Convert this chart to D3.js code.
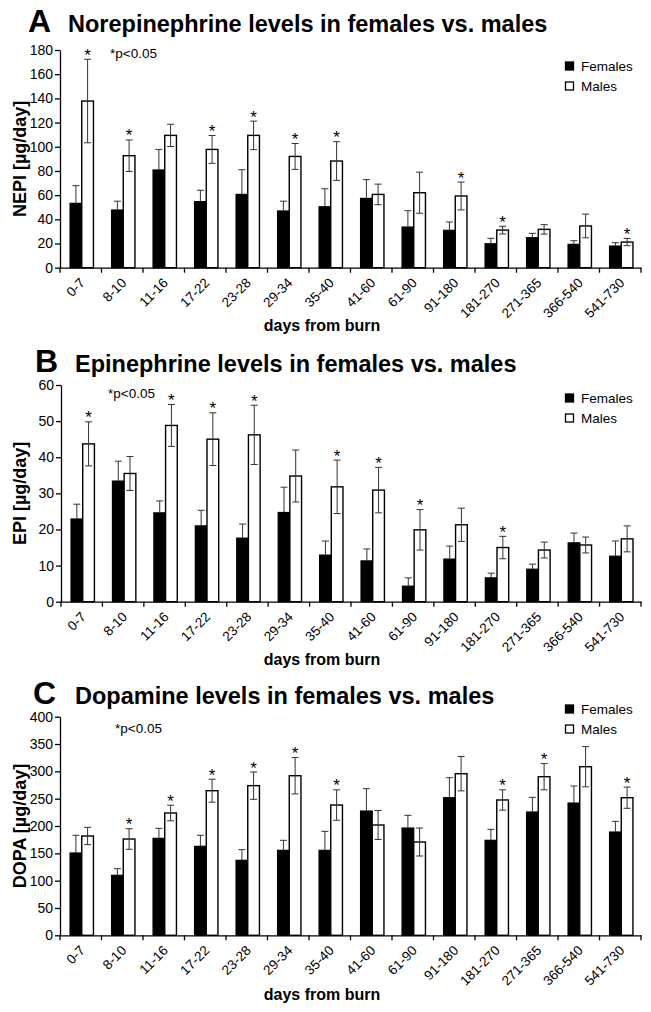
<!DOCTYPE html>
<html><head><meta charset="utf-8">
<script src="https://cdn.jsdelivr.net/npm/d3@7"></script>
<style>
body{margin:0;background:#fff;}
svg{display:block;font-family:"Liberation Sans",Arial,Helvetica,sans-serif;}
</style></head>
<body>
<svg id="chart" width="651" height="1012"></svg>
<script>
const categories = ["0-7","8-10","11-16","17-22","23-28","29-34","35-40","41-60","61-90","91-180","181-270","271-365","366-540","541-730"];
const seriesNames = ["Females","Males"];

const nepiF    = [53.2,47.7,80.8,54.6,60.6,46.9,50.4,57.3,33.6,30.9,19.8,24.8,19.3,17.9];
const nepiFErr = [14.6,7.3,17.0,9.4,20.4,8.1,14.9,15.5,13.5,6.9,4.5,3.6,3.0,2.8];
const nepiM    = [137.8,92.6,109.4,97.8,109.4,92.0,88.2,60.6,62.0,59.3,31.1,31.7,34.5,21.2];
const nepiMErr = [34.5,13.0,9.2,11.5,11.8,10.7,16.0,8.5,17.0,11.5,3.2,3.9,9.8,3.0];
const nepiSig  = [1,1,0,1,1,1,1,0,0,1,1,0,0,1];
const nepiTicks = [0,20,40,60,80,100,120,140,160,180];

const epiF    = [22.9,33.4,24.6,21.0,17.6,24.7,12.9,11.3,4.3,11.8,6.6,9.0,16.3,12.6];
const epiFErr = [4.1,5.5,3.3,4.3,3.9,7.0,3.9,3.3,2.3,3.6,1.3,1.4,2.7,4.2];
const epiM    = [43.7,35.5,48.8,45.0,46.2,34.8,31.8,30.9,19.9,21.3,15.0,14.3,15.7,17.4];
const epiMErr = [6.1,4.7,5.8,7.3,8.2,7.2,7.4,6.3,5.6,4.6,3.1,2.2,2.2,3.6];
const epiSig  = [1,0,1,1,1,0,1,1,1,0,1,0,0,0];
const epiTicks = [0,10,20,30,40,50,60];

const dopaF    = [150.6,109.8,177.4,162.8,137.2,155.5,155.5,227.4,196.3,251.8,173.8,225.6,242.0,189.0];
const dopaFErr = [32.4,12.2,18.3,20.2,19.5,18.3,34.7,40.9,23.2,36.6,20.1,26.8,31.2,19.5];
const dopaM    = [181.7,176.2,223.8,264.6,273.8,292.0,238.4,201.8,170.7,295.7,247.6,290.2,308.5,251.8];
const dopaMErr = [15.8,18.8,14.3,21.0,25.0,33.2,27.8,26.5,25.6,31.4,18.6,24.0,36.8,19.4];
const dopaSig  = [0,1,1,1,1,1,1,0,0,0,1,1,0,1];
const dopaTicks = [0,50,100,150,200,250,300,350,400];

const panels = [
  {letter:"A", title:"Norepinephrine levels in females vs. males", ylabel:"NEPI [µg/day]",
   F:nepiF, FE:nepiFErr, M:nepiM, ME:nepiMErr, sig:nepiSig, ticks:nepiTicks,
   top:50, bottom:267.7, left:60, letterX:28, titleX:68, titleY:32, pX:110, pY:58, legY:62, xlabY:331},
  {letter:"B", title:"Epinephrine levels in females vs. males", ylabel:"EPI [µg/day]",
   F:epiF, FE:epiFErr, M:epiM, ME:epiMErr, sig:epiSig, ticks:epiTicks,
   top:385, bottom:601.7, left:61, letterX:35, titleX:75, titleY:372, pX:108, pY:398, legY:394, xlabY:665},
  {letter:"C", title:"Dopamine levels in females vs. males", ylabel:"DOPA [µg/day]",
   F:dopaF, FE:dopaFErr, M:dopaM, ME:dopaMErr, sig:dopaSig, ticks:dopaTicks,
   top:716.7, bottom:935.3, left:60, letterX:33, titleX:75, titleY:704, pX:115, pY:733, legY:705, xlabY:1000}
];

const svg = d3.select("#chart");
const right = 641;

panels.forEach(p => {
  const g = svg.append("g");
  const x = d3.scaleBand().domain(categories).range([p.left, right]).padding(0);
  const y = d3.scaleLinear().domain([0, p.ticks[p.ticks.length-1]]).range([p.bottom, p.top]);
  const bw = x.bandwidth();
  const barW = 11.7;
  const off = (bw - 2*barW)/2 + 1;

  // titles
  g.append("text").attr("x", p.letterX).attr("y", p.titleY)
    .attr("font-size", 32).attr("font-weight", "bold").text(p.letter);
  g.append("text").attr("x", p.titleX).attr("y", p.titleY)
    .attr("font-size", 23.5).attr("font-weight", "bold").text(p.title);

  // bars
  const rows = categories.map((c,i) => ({c, f:p.F[i], fe:p.FE[i], m:p.M[i], me:p.ME[i], s:p.sig[i]}));
  g.selectAll(".bf").data(rows).join("rect")
    .attr("x", d => x(d.c) + off).attr("width", barW)
    .attr("y", d => y(d.f)).attr("height", d => y(0) - y(d.f))
    .attr("fill", "#000").attr("stroke", "#000").attr("stroke-width", 1.2);
  g.selectAll(".bm").data(rows).join("rect")
    .attr("x", d => x(d.c) + off + barW).attr("width", barW)
    .attr("y", d => y(d.m)).attr("height", d => y(0) - y(d.m))
    .attr("fill", "#fff").attr("stroke", "#000").attr("stroke-width", 1.4);

  // error bars
  const eb = g.append("g").attr("stroke", "#333").attr("stroke-width", 1);
  rows.forEach(d => {
    const cf = x(d.c) + off + barW/2;
    eb.append("line").attr("x1", cf).attr("x2", cf).attr("y1", y(d.f)).attr("y2", y(d.f + d.fe));
    eb.append("line").attr("x1", cf-3.5).attr("x2", cf+3.5).attr("y1", y(d.f + d.fe)).attr("y2", y(d.f + d.fe));
    const cm = x(d.c) + off + barW*1.5;
    eb.append("line").attr("x1", cm).attr("x2", cm).attr("y1", y(d.m - d.me)).attr("y2", y(d.m + d.me));
    eb.append("line").attr("x1", cm-3.5).attr("x2", cm+3.5).attr("y1", y(d.m + d.me)).attr("y2", y(d.m + d.me));
    eb.append("line").attr("x1", cm-3.5).attr("x2", cm+3.5).attr("y1", y(d.m - d.me)).attr("y2", y(d.m - d.me));
    if (d.s) {
      g.append("text").attr("x", cm).attr("y", y(d.m + d.me) + 1.5)
        .attr("text-anchor", "middle").attr("font-size", 17).text("*");
    }
  });

  // y axis
  const ya = g.append("g").attr("transform", `translate(${p.left},0)`)
    .call(d3.axisLeft(y).tickValues(p.ticks).tickSize(5).tickSizeOuter(0).tickPadding(2));
  ya.selectAll("text").attr("font-size", 14).attr("font-family", null).attr("fill", "#000");
  ya.selectAll("line,path").attr("stroke", "#000").attr("stroke-width", 1.3);

  // x axis
  const xa = g.append("g").attr("transform", `translate(0,${p.bottom})`)
    .call(d3.axisBottom(x).tickSize(0).tickSizeOuter(0).tickFormat(""));
  xa.select("path").attr("stroke", "#000").attr("stroke-width", 1.3);
  const bounds = categories.map(c => x(c)).concat([right]);
  g.selectAll(".xt").data(bounds).join("line")
    .attr("x1", d => d).attr("x2", d => d).attr("y1", p.bottom).attr("y2", p.bottom + 5)
    .attr("stroke", "#000").attr("stroke-width", 1.3);
  g.selectAll(".xl").data(categories).join("text")
    .attr("transform", c => `translate(${x(c) + bw/2 + 5},${p.bottom + 16}) rotate(-45)`)
    .attr("text-anchor", "end").attr("font-size", 13.5).text(c => c);

  // axis labels
  g.append("text").attr("transform", `translate(26,${(p.top + p.bottom)/2}) rotate(-90)`)
    .attr("text-anchor", "middle").attr("font-size", 18).attr("font-weight", "bold").text(p.ylabel);
  g.append("text").attr("x", 322).attr("y", p.xlabY).attr("text-anchor", "middle")
    .attr("font-size", 16).attr("font-weight", "bold").text("days from burn");

  // significance note
  g.append("text").attr("x", p.pX).attr("y", p.pY).attr("font-size", 13.5).text("*p<0.05");

  // legend
  seriesNames.forEach((s, i) => {
    g.append("rect").attr("x", 565.5).attr("y", p.legY + i*20).attr("width", 8).attr("height", 8)
      .attr("fill", i === 0 ? "#000" : "#fff").attr("stroke", "#000").attr("stroke-width", 1.3);
    g.append("text").attr("x", 581).attr("y", p.legY + i*20 + 9).attr("font-size", 13.5).text(s);
  });
});
</script>
</body></html>
